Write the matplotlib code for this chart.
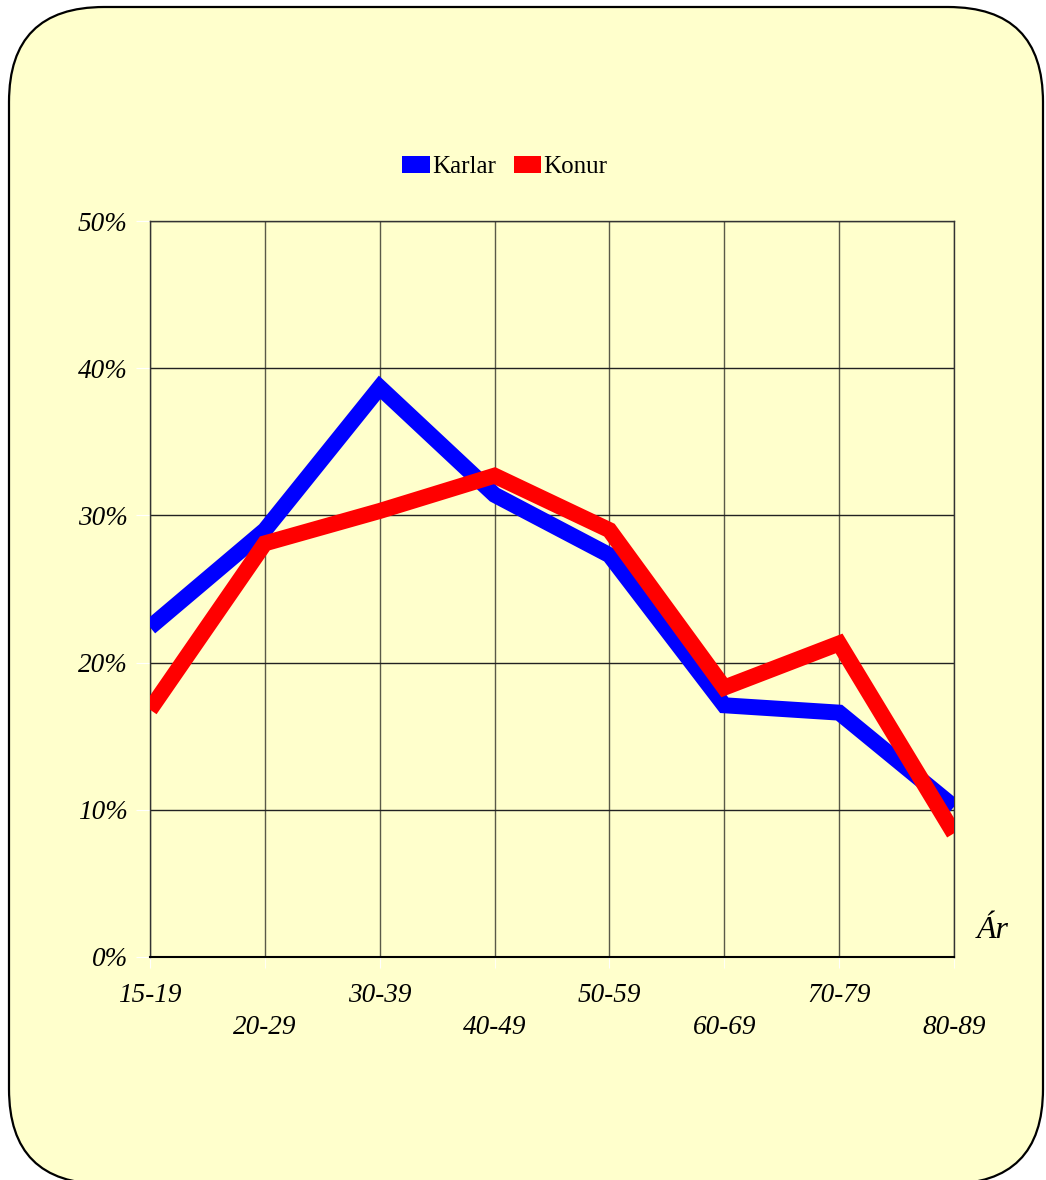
import matplotlib
matplotlib.use('Agg')
import matplotlib.pyplot as plt
from matplotlib.patches import FancyBboxPatch, Patch
import numpy as np

plt.rcParams['font.family'] = ['Liberation Serif', 'DejaVu Serif']

# age groups and share (%) per group
age_groups = ['15-19', '20-29', '30-39', '40-49', '50-59', '60-69', '70-79', '80-89']
karlar = [22.4, 29.0, 38.7, 31.4, 27.3, 17.1, 16.6, 10.2]
konur = [16.8, 28.1, 30.3, 32.7, 29.0, 18.3, 21.3, 8.4]
y_ticks = [0, 10, 20, 30, 40, 50]

bg = '#ffffcc'

fig = plt.figure(figsize=(10.46, 11.8), dpi=100)

# rounded yellow panel behind everything
box = FancyBboxPatch((0.09, -0.04), 10.34, 11.77,
                     boxstyle='round,pad=0,rounding_size=0.95',
                     transform=fig.dpi_scale_trans, facecolor=bg,
                     edgecolor='black', linewidth=1.6, zorder=-5)
fig.patches.append(box)

ax = fig.add_axes([0.1434, 0.189, 0.7686, 0.6237])
ax.set_facecolor('none')

x = np.arange(len(age_groups))
ax.plot(x, karlar, color='#0000ff', linewidth=11.5, solid_joinstyle='miter',
        solid_capstyle='butt', zorder=3)
ax.plot(x, konur, color='#ff0000', linewidth=11.5, solid_joinstyle='miter',
        solid_capstyle='butt', zorder=3)

ax.set_xlim(0, len(age_groups) - 1)
ax.set_ylim(0, 50)

# grid
for xi in x:
    ax.axvline(xi, color='#5a5a48', linewidth=1.0, zorder=1)
for yv in y_ticks:
    ax.axhline(yv, color='#222222', linewidth=1.0, zorder=1)

for s in ax.spines.values():
    s.set_color('#333333')
    s.set_linewidth(1.0)
ax.spines['bottom'].set_color('black')
ax.spines['bottom'].set_linewidth(1.5)

ax.set_yticks(y_ticks)
ax.set_yticklabels(['%d%%' % v for v in y_ticks], fontsize=19.5, style='italic')
ax.tick_params(axis='y', length=10, color='white', pad=6)

# staggered x labels: even on major ticks, odd on minor ticks
ax.set_xticks(x[::2])
ax.set_xticklabels(age_groups[::2], fontsize=19.5, style='italic')
ax.set_xticks(x[1::2], minor=True)
ax.set_xticklabels(age_groups[1::2], minor=True, fontsize=19.5, style='italic')
ax.tick_params(axis='x', which='both', length=8, color='white')
ax.tick_params(axis='x', which='major', pad=11)
ax.tick_params(axis='x', which='minor', pad=34)

ax.text(993 / 1046, 1 - 931 / 1180, 'Ár', transform=fig.transFigure,
        fontsize=23, style='italic', ha='center', va='center')

handles = [Patch(facecolor='#0000ff', label='Karlar'),
           Patch(facecolor='#ff0000', label='Konur')]
fig.legend(handles=handles, loc='center', bbox_to_anchor=(505 / 1046, 1 - 167 / 1180),
           ncol=2, frameon=False, fontsize=18, handlelength=1.1, handleheight=0.7,
           handletextpad=0.1, columnspacing=0.7)

fig.savefig('out.png', dpi=100, facecolor='white')
